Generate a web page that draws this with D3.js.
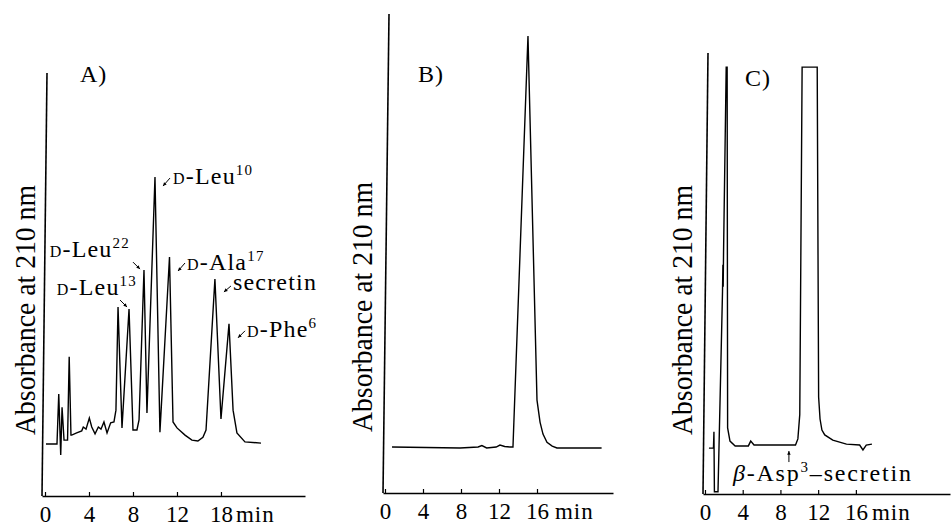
<!DOCTYPE html>
<html>
<head>
<meta charset="utf-8">
<script src="https://cdn.jsdelivr.net/npm/d3@7"></script>
</head>
<body style="margin:0">
<svg width="952" height="526"></svg>
<script>
// chromatogram A: retention time (min) and absorbance (relative units, 0-100 of axis height)
var timeA = [0.09, 1.09, 1.25, 1.43, 1.55, 1.73, 2.05, 2.2, 2.36, 2.43, 2.88, 3.34, 3.48, 3.73, 4.03, 4.25,
  4.55, 4.85, 5.09, 5.36, 5.64, 5.97, 6.27, 6.45, 6.64, 7.0, 7.64, 8.0, 8.36, 8.55, 9.0, 9.27, 10.0,
  10.45, 11.32, 11.64, 12.0, 12.73, 13.36, 13.9, 14.36, 14.64, 15.45, 16.0, 16.73, 17.1, 17.45, 18.18, 19.64];
var absA = [12.3, 12.3, 24.1, 9.7, 21.0, 13.2, 13.2, 32.9, 14.4, 14.4, 14.9, 15.4, 16.3, 15.8, 18.4, 16.3,
  14.7, 16.3, 15.8, 17.5, 14.9, 17.3, 17.5, 20.3, 44.7, 16.1, 44.2, 15.6, 15.6, 18, 53.4, 19.6, 75.4,
  15.1, 56.5, 17.5, 16.1, 14.4, 13.2, 13.0, 13.9, 15.6, 51.3, 18.2, 40.7, 20.3, 14.9, 12.8, 12.5];

// chromatogram B
var timeB = [0.74, 7.9, 9.8, 10.2, 10.7, 11.7, 12.1, 12.6, 13.16, 13.47, 15.05, 16.0, 16.32, 16.63, 17.05, 17.6, 18.1, 22.8];
var absB = [9.6, 9.4, 9.6, 9.9, 9.4, 9.6, 10.0, 9.7, 9.6, 9.6, 95.4, 19.4, 14.8, 12.3, 10.6, 9.8, 9.4, 9.4];

// chromatogram C (off-scale peaks clipped at the recorder limit)
var timeC = [0.42, 0.90, 0.95, 1.0, 1.38, 1.86, 1.90, 1.93, 1.97, 2.25, 2.35, 2.40, 2.65, 3.2, 4.6, 4.85, 5.2,
  9.6, 9.85, 10.05, 10.3, 11.9, 12.05, 12.2, 12.4, 12.7, 13.55, 15.0, 16.4, 16.75, 17.1, 17.7];
var absC = [10.4, 10.4, 14.1, 0.5, 0.5, 46, 52, 47, 55, 96.8, 96.8, 15, 12, 10.9, 10.9, 12.0, 11.1,
  11.1, 12.5, 18, 96.8, 96.8, 22, 17, 14.5, 13.4, 12.2, 11.3, 11.1, 10.0, 11.1, 11.3];

// axis ticks
var ticksA = [0, 4, 8, 12, 16];
var tickLabelsA = ["0", "4", "8", "12", "18"];
var ticksB = [0, 4, 8, 12, 16];
var tickLabelsB = ["0", "4", "8", "12", "16"];
var ticksC = [0, 4, 8, 12, 16];
var tickLabelsC = ["0", "4", "8", "12", "16"];

var panelTitles = ["A)", "B)", "C)"];
var yTitle = "Absorbance at 210 nm";
var xUnit = "min";

// peak labels in A: time of the peak each one points at
var peakLabelsA = [
  {t: 10.0, pre: "D", stem: "-Leu", sup: "10"},
  {t: 9.0, pre: "D", stem: "-Leu", sup: "22"},
  {t: 7.64, pre: "D", stem: "-Leu", sup: "13"},
  {t: 11.32, pre: "D", stem: "-Ala", sup: "17"},
  {t: 15.45, pre: "", stem: "secretin", sup: ""},
  {t: 16.73, pre: "D", stem: "-Phe", sup: "6"}
];
var markerTimeC = 8.9;

var FONT = "'Liberation Serif'";
var svg = d3.select("svg");

// layout of the three panels
var panels = [
  {time: timeA, abs: absA, ticks: ticksA, labels: tickLabelsA, x0: 42, x1: 305, tmin: -0.273, tmax: 23.64,
   yb: 496, yt: 73, axTop: 47, axBot: 42, title: [80, 82], ylab: [35, 310], unitDx: 15},
  {time: timeB, abs: absB, ticks: ticksB, labels: tickLabelsB, x0: 383, x1: 613, tmin: -0.21, tmax: 24.0,
   yb: 493, yt: 14, axTop: 389, axBot: 383, title: [418, 82], ylab: [372, 307], unitDx: 18},
  {time: timeC, abs: absC, ticks: ticksC, labels: tickLabelsC, x0: 703, x1: 950, tmin: -0.21, tmax: 25.98,
   yb: 494, yt: 53, axTop: 708, axBot: 703, title: [745, 86], ylab: [692, 310], unitDx: 16}
];

function txt(sel, size) {
  return sel.style("font-family", FONT).attr("font-size", size).attr("fill", "#000");
}

panels.forEach(function(p, k) {
  var x = d3.scaleLinear().domain([p.tmin, p.tmax]).range([p.x0, p.x1]);
  var y = d3.scaleLinear().domain([0, 100]).range([p.yb, p.yt]);
  p.x = x; p.y = y;
  var g = svg.append("g");

  // vertical axis (slightly tilted like the recorder paper)
  g.append("line")
    .attr("x1", p.axTop).attr("y1", y(100))
    .attr("x2", p.axBot).attr("y2", y(0))
    .attr("stroke", "#000").attr("stroke-width", 1.6);

  var axis = d3.axisBottom(x)
    .tickValues(p.ticks)
    .tickFormat(function(d, i) { return p.labels[i]; })
    .tickSizeInner(-4)
    .tickSizeOuter(0)
    .tickPadding(10);

  var ax = g.append("g")
    .attr("transform", "translate(0," + p.yb + ")")
    .call(axis);
  ax.select(".domain").attr("stroke-width", 1.6);
  ax.selectAll(".tick line").attr("stroke-width", 1.2);
  txt(ax.selectAll(".tick text"), 23);

  var last = p.ticks[p.ticks.length - 1];
  txt(g.append("text"), 23)
    .attr("x", x(last) + p.unitDx)
    .attr("y", p.yb + 10)
    .attr("dy", "0.71em")
    .attr("letter-spacing", 1)
    .text(xUnit);

  // trace
  var line = d3.line()
    .x(function(d) { return x(d[0]); })
    .y(function(d) { return y(d[1]); });
  g.append("path")
    .datum(d3.zip(p.time, p.abs))
    .attr("d", line)
    .attr("fill", "none")
    .attr("stroke", "#000")
    .attr("stroke-width", 1.4);

  txt(g.append("text"), 24)
    .attr("x", p.title[0]).attr("y", p.title[1])
    .attr("letter-spacing", 1)
    .text(panelTitles[k]);

  txt(g.append("text"), 30)
    .attr("transform", "translate(" + p.ylab[0] + "," + p.ylab[1] + ") rotate(-90)")
    .attr("text-anchor", "middle")
    .attr("textLength", 250)
    .attr("lengthAdjust", "spacingAndGlyphs")
    .text(yTitle);
});

function arrow(x1, y1, x2, y2) {
  var a = Math.atan2(y2 - y1, x2 - x1), h = 4;
  svg.append("line")
    .attr("x1", x1).attr("y1", y1).attr("x2", x2).attr("y2", y2)
    .attr("stroke", "#000").attr("stroke-width", 1);
  svg.append("path")
    .attr("d", "M" + x2 + "," + y2 +
      "L" + (x2 - h * Math.cos(a - 0.45)) + "," + (y2 - h * Math.sin(a - 0.45)) +
      "L" + (x2 - h * Math.cos(a + 0.45)) + "," + (y2 - h * Math.sin(a + 0.45)) + "Z")
    .attr("fill", "#000");
}

function peakText(tx, ty, lab, anchor) {
  var t = txt(svg.append("text"), 24)
    .attr("x", tx).attr("y", ty)
    .attr("text-anchor", anchor)
    .attr("letter-spacing", 1.2);
  if (lab.pre) t.append("tspan").attr("font-size", 16).text(lab.pre);
  t.append("tspan").text(lab.stem);
  if (lab.sup) t.append("tspan").attr("font-size", 15).attr("dy", -9).text(lab.sup);
}

// label placement: offsets from the peak tip (px)
var place = [
  {tail: [15, 1], head: [8, 9], text: [18, 7], anchor: "start"},
  {tail: [-11, -8], head: [-4, -1], text: [-14, -13], anchor: "end"},
  {tail: [-9, -9], head: [-2, -2], text: [8, -14], anchor: "end"},
  {tail: [15.5, 6], head: [8.5, 14], text: [17.5, 13], anchor: "start"},
  {tail: [16, 7], head: [9, 13], text: [18, 11], anchor: "start"},
  {tail: [16, 7], head: [9, 14], text: [18, 13], anchor: "start"}
];

var pa = panels[0];
peakLabelsA.forEach(function(lab, i) {
  var j = timeA.indexOf(lab.t);
  var px = pa.x(lab.t), py = pa.y(absA[j]);
  var s = place[i];
  arrow(px + s.tail[0], py + s.tail[1], px + s.head[0], py + s.head[1]);
  peakText(px + s.text[0], py + s.text[1], lab, s.anchor);
});

// marker in C
var pc = panels[2];
var mx = pc.x(markerTimeC), my = pc.y(11.1);
arrow(mx, my + 17, mx, my + 6);
var tc = txt(svg.append("text"), 24)
  .attr("x", mx - 56).attr("y", my + 36)
  .attr("letter-spacing", 1.8);
tc.append("tspan").style("font-style", "italic").text("β");
tc.append("tspan").text("-Asp");
tc.append("tspan").attr("font-size", 15).attr("dy", -9).text("3");
tc.append("tspan").attr("dy", 9).text("–secretin");
</script>
</body>
</html>
